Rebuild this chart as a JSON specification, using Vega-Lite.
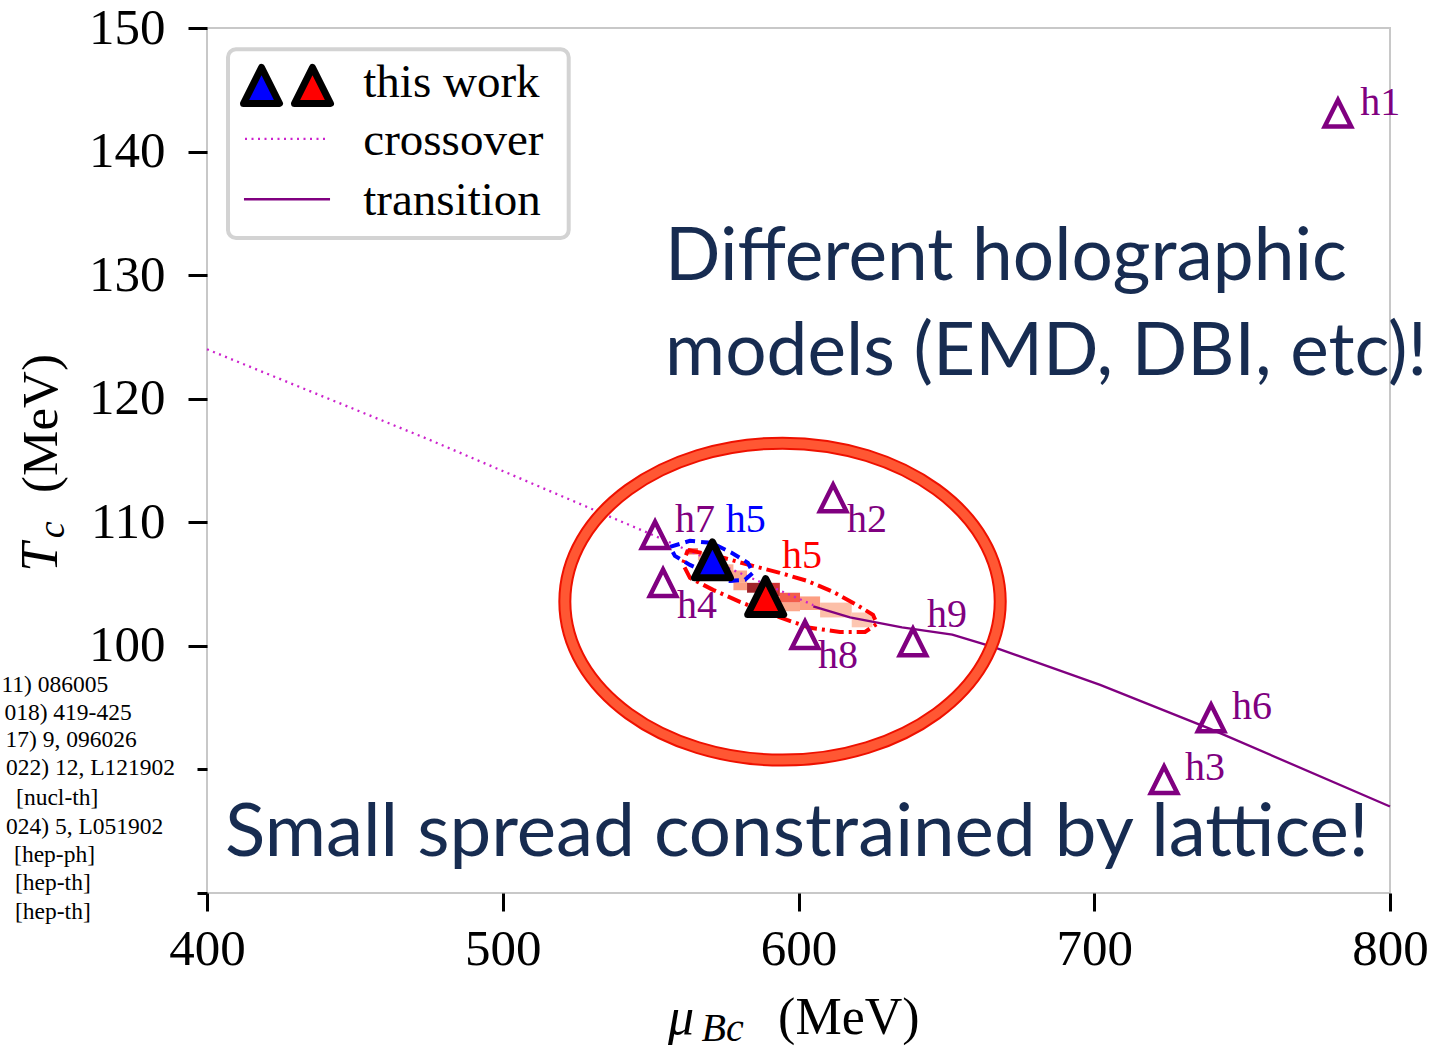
{
  "$schema": "https://vega.github.io/schema/vega-lite/v6.json",
  "width": 1183,
  "height": 865,
  "autosize": {"type": "none"},
  "padding": {"left": 207, "top": 28, "right": 44, "bottom": 156},
  "background": "white",
  "config": {
    "view": {"stroke": "#c8c8c8", "strokeWidth": 2},
    "axis": {"labelFont": "Liberation Serif", "labelFontSize": 51, "labelColor": "black", "tickColor": "black", "tickWidth": 3, "domain": false, "grid": false, "title": null}
  },
  "datasets": {
    "heat": [
      {"mu": 562.6, "mu2": 566, "T": 107.4, "T2": 107.9, "d": 0.55},
      {"mu": 566, "mu2": 570, "T": 106.9, "T2": 107.6, "d": 0.1},
      {"mu": 570, "mu2": 574, "T": 106.4, "T2": 107.1, "d": 0.12},
      {"mu": 574, "mu2": 578, "T": 105.9, "T2": 106.6, "d": 0.15},
      {"mu": 577, "mu2": 582.6, "T": 105.1, "T2": 106.1, "d": 0.2},
      {"mu": 578, "mu2": 582.6, "T": 104.5, "T2": 105.1, "d": 0.25},
      {"mu": 582.6, "mu2": 587, "T": 104.3, "T2": 105.1, "d": 1.0},
      {"mu": 587, "mu2": 593.7, "T": 104.0, "T2": 105.1, "d": 0.8},
      {"mu": 587, "mu2": 593.7, "T": 103.3, "T2": 104.0, "d": 0.45},
      {"mu": 593.7, "mu2": 600.5, "T": 103.5, "T2": 104.3, "d": 0.55},
      {"mu": 593.7, "mu2": 600.5, "T": 102.8, "T2": 103.5, "d": 0.2},
      {"mu": 600.5, "mu2": 607.3, "T": 102.9, "T2": 104.0, "d": 0.25},
      {"mu": 607.3, "mu2": 618, "T": 102.3, "T2": 103.5, "d": 0.08},
      {"mu": 618, "mu2": 625, "T": 101.5, "T2": 102.7, "d": 0.04}
    ],
    "crossover": [
      {"mu": 400, "T": 124.0},
      {"mu": 475, "T": 116.7},
      {"mu": 550, "T": 109.05},
      {"mu": 605, "T": 103.3}
    ],
    "transition": [
      {"mu": 605, "T": 103.2},
      {"mu": 617.4, "T": 102.3},
      {"mu": 635, "T": 101.5},
      {"mu": 652, "T": 100.9},
      {"mu": 666, "T": 99.9},
      {"mu": 702, "T": 96.84},
      {"mu": 739, "T": 93.3},
      {"mu": 800, "T": 87.0}
    ],
    "redContour": [
      {"i": 0, "mu": 562.6, "T": 107.77},
      {"i": 1, "mu": 573.5, "T": 107.2},
      {"i": 2, "mu": 584.6, "T": 106.47},
      {"i": 3, "mu": 593.7, "T": 105.91},
      {"i": 4, "mu": 602.9, "T": 105.26},
      {"i": 5, "mu": 611.7, "T": 104.37},
      {"i": 6, "mu": 619.1, "T": 103.4},
      {"i": 7, "mu": 625.2, "T": 102.51},
      {"i": 8, "mu": 626.5, "T": 101.78},
      {"i": 9, "mu": 622.5, "T": 101.13},
      {"i": 10, "mu": 614.0, "T": 101.13},
      {"i": 11, "mu": 603.9, "T": 101.46},
      {"i": 12, "mu": 596.1, "T": 102.1},
      {"i": 13, "mu": 587.0, "T": 102.91},
      {"i": 14, "mu": 580.2, "T": 103.56},
      {"i": 15, "mu": 571.1, "T": 104.53},
      {"i": 16, "mu": 563.3, "T": 105.5},
      {"i": 17, "mu": 560.9, "T": 106.63},
      {"i": 18, "mu": 562.6, "T": 107.77}
    ],
    "blueContour": [
      {"i": 0, "mu": 556.55, "T": 108.01},
      {"i": 1, "mu": 563.3, "T": 108.5},
      {"i": 2, "mu": 570.7, "T": 108.33},
      {"i": 3, "mu": 577.5, "T": 107.52},
      {"i": 4, "mu": 582.9, "T": 106.72},
      {"i": 5, "mu": 584.6, "T": 105.91},
      {"i": 6, "mu": 581.9, "T": 105.34},
      {"i": 7, "mu": 576.8, "T": 105.26},
      {"i": 8, "mu": 570.1, "T": 105.83},
      {"i": 9, "mu": 563.3, "T": 106.55},
      {"i": 10, "mu": 558.2, "T": 107.28},
      {"i": 11, "mu": 556.55, "T": 108.01}
    ],
    "holo": [
      {"model": "h1", "mu": 782.4, "T": 143.1},
      {"model": "h2", "mu": 611.7, "T": 111.97},
      {"model": "h3", "mu": 723.6, "T": 89.16},
      {"model": "h4", "mu": 554.2, "T": 105.1},
      {"model": "h6", "mu": 739.5, "T": 94.17},
      {"model": "h7", "mu": 551.5, "T": 108.98},
      {"model": "h8", "mu": 602.2, "T": 100.89},
      {"model": "h9", "mu": 638.7, "T": 100.32}
    ],
    "labels": [
      {"text": "h1", "grp": "holographic", "mu": 789.9, "T": 142.96},
      {"text": "h2", "grp": "holographic", "mu": 616.4, "T": 109.22},
      {"text": "h3", "grp": "holographic", "mu": 730.7, "T": 89.16},
      {"text": "h4", "grp": "holographic", "mu": 558.9, "T": 102.27},
      {"text": "h6", "grp": "holographic", "mu": 746.6, "T": 94.09},
      {"text": "h7", "grp": "holographic", "mu": 558.2, "T": 109.22},
      {"text": "h8", "grp": "holographic", "mu": 606.6, "T": 98.22},
      {"text": "h9", "grp": "holographic", "mu": 643.45, "T": 101.54},
      {"text": "h5", "grp": "this work (blue)", "mu": 575.4, "T": 109.22},
      {"text": "h5", "grp": "this work (red)", "mu": 594.4, "T": 106.31}
    ],
    "thiswork": [
      {"set": "this work (blue)", "mu": 570.9, "T": 106.96},
      {"set": "this work (red)", "mu": 588.9, "T": 103.99}
    ],
    "ellipse": [{"mu": 594.6, "T": 103.58}],
    "notes": [
      {"block": "top", "text": "Different holographic", "mu": 554.9, "T": 129.61},
      {"block": "top", "text": "models (EMD, DBI, etc)!", "mu": 554.9, "T": 121.93},
      {"block": "bottom", "text": "Small spread constrained by lattice!", "mu": 406.1, "T": 83.0}
    ],
    "legendBox": [{"mu": 407.1, "mu2": 522.3, "T": 148.28, "T2": 133.01}],
    "legendTri": [
      {"set": "this work (blue)", "mu": 418.43, "T": 145.35},
      {"set": "this work (red)", "mu": 435.67, "T": 145.35}
    ],
    "legendLines": [
      {"style": "crossover", "mu": 412.85, "T": 141.02},
      {"style": "crossover", "mu": 439.9, "T": 141.02},
      {"style": "transition", "mu": 412.5, "T": 136.14},
      {"style": "transition", "mu": 441.6, "T": 136.14}
    ],
    "legendText": [
      {"text": "this work", "mu": 452.85, "T": 144.44},
      {"text": "crossover", "mu": 452.85, "T": 139.73},
      {"text": "transition", "mu": 452.85, "T": 134.88}
    ],
    "citations": [
      {"text": "11) 086005", "mu": 366.63, "T": 96.84},
      {"text": "018) 419-425", "mu": 374.54, "T": 94.56},
      {"text": "17) 9, 096026", "mu": 376.23, "T": 92.39},
      {"text": "022) 12, L121902", "mu": 389.18, "T": 90.11},
      {"text": "[nucl-th]", "mu": 363.25, "T": 87.68},
      {"text": "024) 5, L051902", "mu": 385.22, "T": 85.38},
      {"text": "[hep-ph]", "mu": 362.13, "T": 83.09},
      {"text": "[hep-th]", "mu": 360.68, "T": 80.8},
      {"text": "[hep-th]", "mu": 360.68, "T": 78.5}
    ],
    "xtitle": [
      {"part": "sym", "text": "μ", "mu": 555.9, "T": 68.6},
      {"part": "sub", "text": "Bc", "mu": 567.2, "T": 68.0},
      {"part": "unit", "text": "(MeV)", "mu": 593.1, "T": 68.6}
    ],
    "ytitle": [
      {"part": "sym", "text": "T", "mu": 349.3, "T": 105.99},
      {"part": "sub", "text": "c", "mu": 351.6, "T": 108.7},
      {"part": "unit", "text": "(MeV)", "mu": 349.3, "T": 112.38}
    ]
  },
  "encoding": {
    "x": {"field": "mu", "type": "quantitative", "scale": {"domain": [400, 800], "nice": false, "zero": false},
      "axis": {"values": [400, 500, 600, 700, 800], "tickSize": 18, "labelPadding": 13, "labelFlush": false, "labelOverlap": false, "labelBound": false, "format": "d"}},
    "y": {"field": "T", "type": "quantitative", "scale": {"domain": [80, 150], "nice": false, "zero": false},
      "axis": {"values": [80, 90, 100, 110, 120, 130, 140, 150], "tickSize": {"condition": {"test": "datum.value < 95", "value": 10}, "value": 19}, "labelPadding": 23, "labelExpr": "datum.value < 95 ? '' : datum.label", "labelFlush": false, "labelOverlap": false, "labelBound": false, "format": "d"}}
  },
  "layer": [
    {
      "data": {"name": "heat"},
      "mark": {"type": "rect", "opacity": 0.9},
      "encoding": {
        "x2": {"field": "mu2"},
        "y2": {"field": "T2"},
        "color": {"field": "d", "type": "quantitative", "scale": {"scheme": "reds", "domain": [0, 1]}, "legend": null}
      }
    },
    {
      "data": {"name": "crossover"},
      "mark": {"type": "line", "color": "#cc22cc", "strokeWidth": 2.3, "strokeDash": [2, 4.5]},
      "encoding": {}
    },
    {
      "data": {"name": "transition"},
      "mark": {"type": "line", "color": "#800080", "strokeWidth": 2.3},
      "encoding": {}
    },
    {
      "data": {"name": "redContour"},
      "mark": {"type": "line", "color": "#ff0000", "strokeWidth": 4, "strokeDash": [14, 5, 3, 5]},
      "encoding": {"order": {"field": "i", "type": "quantitative"}}
    },
    {
      "data": {"name": "blueContour"},
      "mark": {"type": "line", "color": "#0000ff", "strokeWidth": 4, "strokeDash": [10, 6]},
      "encoding": {"order": {"field": "i", "type": "quantitative"}}
    },
    {
      "data": {"name": "holo"},
      "mark": {"type": "point", "shape": "M0,-1L1,1L-1,1Z", "filled": false, "stroke": "#800080", "strokeWidth": 4.5, "size": 700, "opacity": 1, "strokeJoin": "miter"},
      "encoding": {}
    },
    {
      "data": {"name": "labels"},
      "mark": {"type": "text", "align": "left", "baseline": "alphabetic", "font": "Liberation Serif", "fontSize": 40},
      "encoding": {
        "text": {"field": "text"},
        "color": {"field": "grp", "type": "nominal", "scale": {"domain": ["holographic", "this work (blue)", "this work (red)"], "range": ["#800080", "#0000ff", "#ff0000"]}, "legend": null}
      }
    },
    {
      "data": {"name": "thiswork"},
      "mark": {"type": "point", "shape": "M0,-1L1,1L-1,1Z", "filled": true, "stroke": "black", "strokeWidth": 7, "strokeJoin": "round", "size": 1296, "opacity": 1},
      "encoding": {
        "color": {"field": "set", "type": "nominal", "scale": {"domain": ["holographic", "this work (blue)", "this work (red)"], "range": ["#800080", "#0000ff", "#ff0000"]}, "legend": null}
      }
    },
    {
      "data": {"name": "ellipse"},
      "mark": {"type": "point", "shape": "M-1,0C-1,-0.402 -0.552,-0.728 0,-0.728C0.552,-0.728 1,-0.402 1,0C1,0.402 0.552,0.728 0,0.728C-0.552,0.728 -1,0.402 -1,0Z", "filled": false, "stroke": "#ee1100", "strokeWidth": 13, "size": 189573, "opacity": 1},
      "encoding": {}
    },
    {
      "data": {"name": "ellipse"},
      "mark": {"type": "point", "shape": "M-1,0C-1,-0.402 -0.552,-0.728 0,-0.728C0.552,-0.728 1,-0.402 1,0C1,0.402 0.552,0.728 0,0.728C-0.552,0.728 -1,0.402 -1,0Z", "filled": false, "stroke": "#ff5733", "strokeWidth": 9, "size": 189573, "opacity": 1},
      "encoding": {}
    },
    {
      "data": {"name": "notes"},
      "transform": [{"filter": "datum.block === 'top'"}],
      "mark": {"type": "text", "align": "left", "baseline": "alphabetic", "font": "Lato", "fontSize": 73, "color": "#172c51"},
      "encoding": {"text": {"field": "text"}}
    },
    {
      "data": {"name": "notes"},
      "transform": [{"filter": "datum.block === 'bottom'"}],
      "mark": {"type": "text", "align": "left", "baseline": "alphabetic", "font": "Lato", "fontSize": 74.5, "color": "#172c51"},
      "encoding": {"text": {"field": "text"}}
    },
    {
      "data": {"name": "legendBox"},
      "mark": {"type": "rect", "fill": "white", "stroke": "#d3d3d3", "strokeWidth": 4, "cornerRadius": 8, "opacity": 1},
      "encoding": {"x2": {"field": "mu2"}, "y2": {"field": "T2"}}
    },
    {
      "data": {"name": "legendTri"},
      "mark": {"type": "point", "shape": "M0,-1L1,1L-1,1Z", "filled": true, "stroke": "black", "strokeWidth": 7, "strokeJoin": "round", "size": 1296, "opacity": 1},
      "encoding": {
        "color": {"field": "set", "type": "nominal", "scale": {"domain": ["holographic", "this work (blue)", "this work (red)"], "range": ["#800080", "#0000ff", "#ff0000"]}, "legend": null}
      }
    },
    {
      "data": {"name": "legendLines"},
      "transform": [{"filter": "datum.style === 'crossover'"}],
      "mark": {"type": "line", "color": "#cc22cc", "strokeWidth": 2.3, "strokeDash": [2, 4.5]},
      "encoding": {}
    },
    {
      "data": {"name": "legendLines"},
      "transform": [{"filter": "datum.style === 'transition'"}],
      "mark": {"type": "line", "color": "#800080", "strokeWidth": 2.3},
      "encoding": {}
    },
    {
      "data": {"name": "legendText"},
      "mark": {"type": "text", "align": "left", "baseline": "alphabetic", "font": "Liberation Serif", "fontSize": 47, "color": "black"},
      "encoding": {"text": {"field": "text"}}
    },
    {
      "data": {"name": "citations"},
      "mark": {"type": "text", "align": "right", "baseline": "middle", "font": "Liberation Serif", "fontSize": 23.5, "color": "black"},
      "encoding": {"text": {"field": "text"}}
    },
    {
      "data": {"name": "xtitle"},
      "transform": [{"filter": "datum.part === 'sym'"}],
      "mark": {"type": "text", "align": "left", "baseline": "alphabetic", "font": "Liberation Serif", "fontStyle": "italic", "fontSize": 52, "color": "black"},
      "encoding": {"text": {"field": "text"}}
    },
    {
      "data": {"name": "xtitle"},
      "transform": [{"filter": "datum.part === 'sub'"}],
      "mark": {"type": "text", "align": "left", "baseline": "alphabetic", "font": "Liberation Serif", "fontStyle": "italic", "fontSize": 40, "color": "black"},
      "encoding": {"text": {"field": "text"}}
    },
    {
      "data": {"name": "xtitle"},
      "transform": [{"filter": "datum.part === 'unit'"}],
      "mark": {"type": "text", "align": "left", "baseline": "alphabetic", "font": "Liberation Serif", "fontSize": 52, "color": "black"},
      "encoding": {"text": {"field": "text"}}
    },
    {
      "data": {"name": "ytitle"},
      "transform": [{"filter": "datum.part === 'sym'"}],
      "mark": {"type": "text", "align": "left", "baseline": "alphabetic", "angle": 270, "font": "Liberation Serif", "fontStyle": "italic", "fontSize": 52, "color": "black"},
      "encoding": {"text": {"field": "text"}}
    },
    {
      "data": {"name": "ytitle"},
      "transform": [{"filter": "datum.part === 'sub'"}],
      "mark": {"type": "text", "align": "left", "baseline": "alphabetic", "angle": 270, "font": "Liberation Serif", "fontStyle": "italic", "fontSize": 38, "color": "black"},
      "encoding": {"text": {"field": "text"}}
    },
    {
      "data": {"name": "ytitle"},
      "transform": [{"filter": "datum.part === 'unit'"}],
      "mark": {"type": "text", "align": "left", "baseline": "alphabetic", "angle": 270, "font": "Liberation Serif", "fontSize": 51, "color": "black"},
      "encoding": {"text": {"field": "text"}}
    }
  ]
}
